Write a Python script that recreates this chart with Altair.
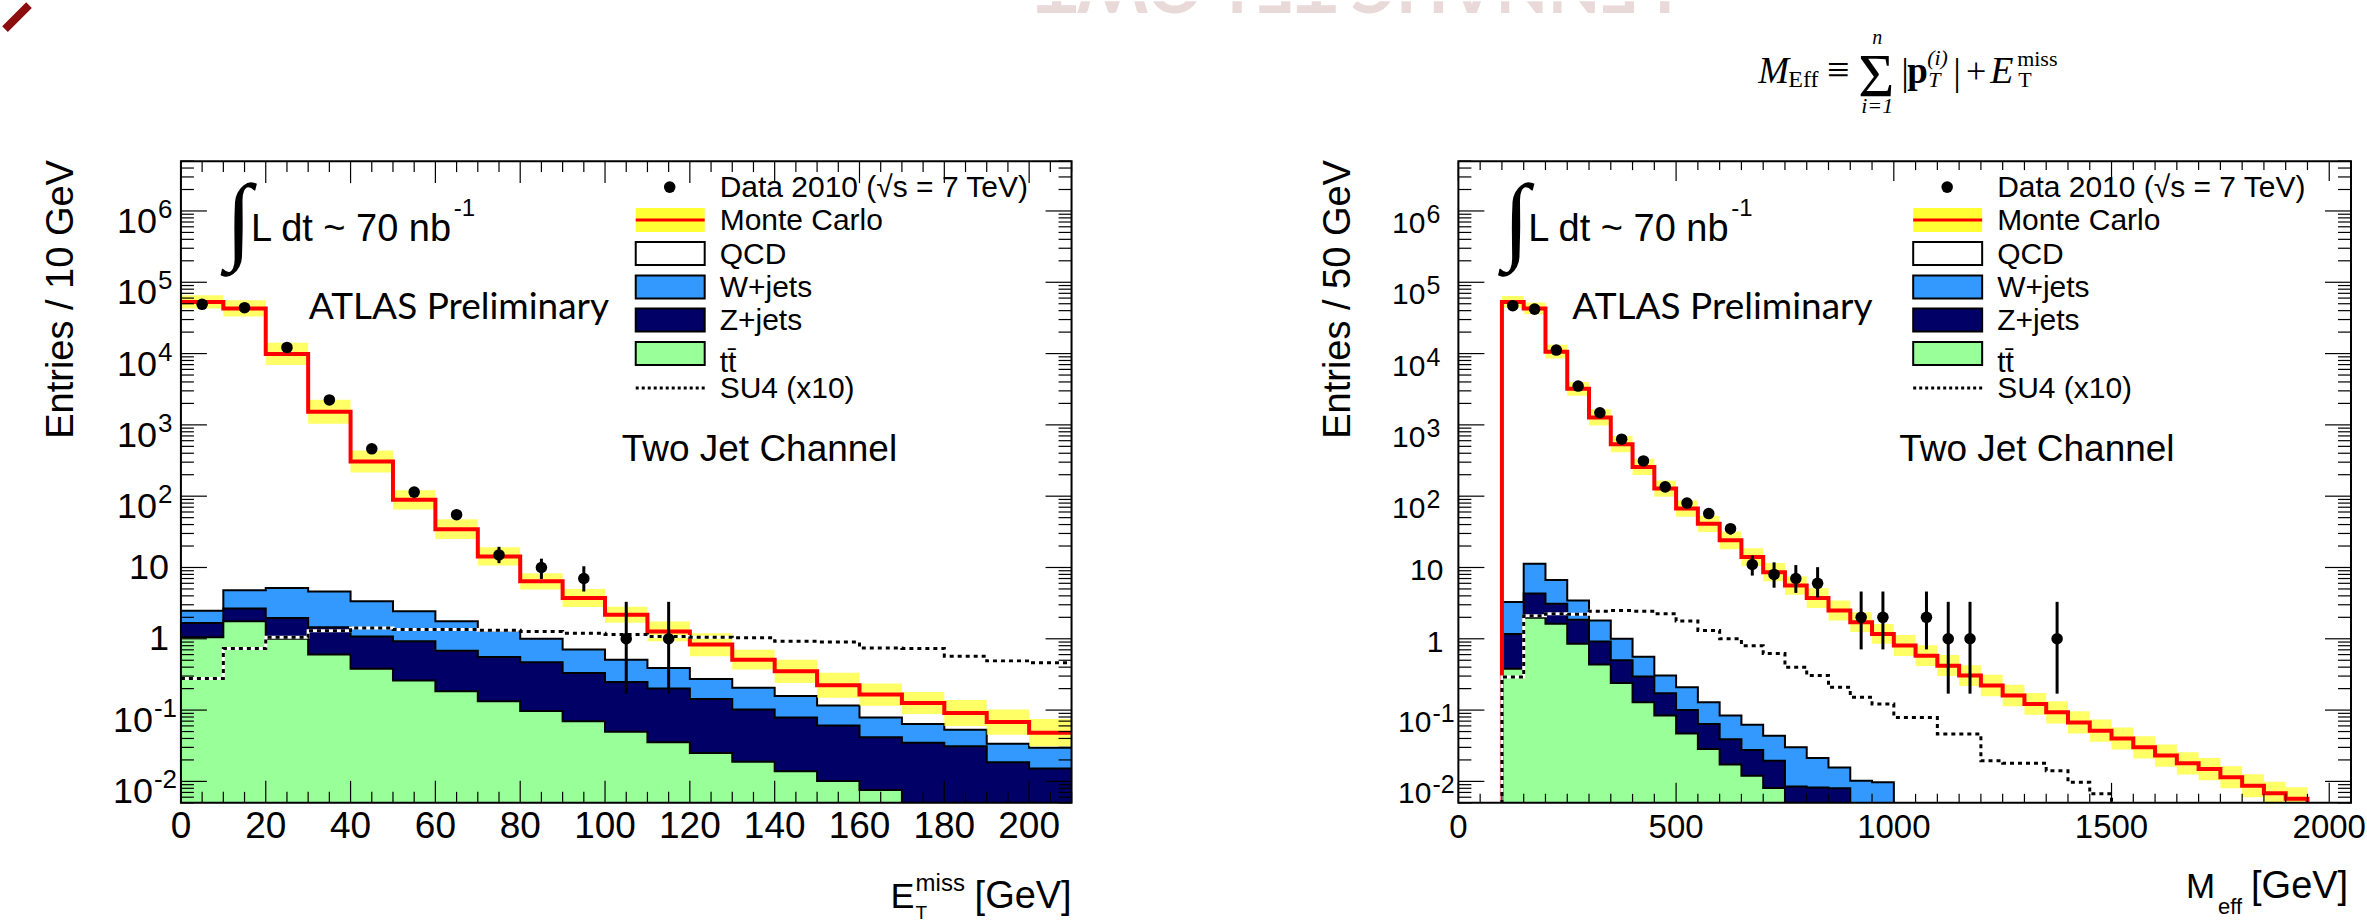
import altair as alt
import pandas as pd

# ------------------------------------------------------------------ data
# Left panel: E_T^miss, 10 GeV bins from 0 to 210
met_bin_lo = [0, 10, 20, 30, 40, 50, 60, 70, 80, 90, 100, 110, 120, 130, 140, 150, 160, 170, 180, 190, 200]
met_mc = [5.3e4, 4.3e4, 9.9e3, 1530, 306, 89, 34.5, 14.3, 6.4, 3.73, 2.18, 1.27, 0.83, 0.51, 0.35,
          0.223, 0.165, 0.126, 0.091, 0.068, 0.048]
met_mc_hi = [6.6e4, 5.6e4, 1.42e4, 2250, 438, 121, 47.6, 19.2, 8.3, 5.0, 2.82, 1.75, 1.2, 0.70, 0.51,
             0.335, 0.236, 0.18, 0.138, 0.102, 0.075]
met_mc_lo = [4.3e4, 3.3e4, 6.9e3, 1040, 214, 65, 25, 10.7, 4.9, 2.78, 1.68, 0.92, 0.57, 0.37, 0.24,
             0.149, 0.115, 0.088, 0.06, 0.045, 0.031]
met_wjets_cum = [2.48, 4.78, 5.15, 4.62, 3.35, 2.43, 1.76, 1.30, 1.0, 0.71, 0.51, 0.39, 0.273, 0.205,
                 0.157, 0.116, 0.079, 0.064, 0.053, 0.0336, 0.0296]
met_zjets_cum = [1.66, 2.65, 1.95, 1.45, 1.08, 0.92, 0.68, 0.556, 0.47, 0.33, 0.248, 0.2, 0.143, 0.102,
                 0.079, 0.061, 0.0417, 0.0347, 0.031, 0.0186, 0.0152]
met_ttbar = [1.05, 1.76, 1.0, 0.6, 0.38, 0.26, 0.184, 0.133, 0.097, 0.07, 0.0496, 0.0355, 0.025, 0.0188,
             0.0139, 0.0101, 0.0076]
met_su4 = [0.277, 0.73, 1.05, 1.3, 1.42, 1.35, 1.35, 1.32, 1.27, 1.2, 1.15, 1.08, 1.05, 1.03, 0.92, 0.9,
           0.74, 0.73, 0.57, 0.49, 0.46]
met_data_x = [5, 15, 25, 35, 45, 55, 65, 75, 85, 95, 105, 115]
met_data = [49000, 44000, 12200, 2240, 461, 114, 55, 15, 10, 7, 1, 1]
met_data_lo = [48780, 43790, 12090, 2193, 440, 103.5, 47.7, 11.5, 6.9, 4.6, 0.17, 0.17]
met_data_hi = [49220, 44210, 12310, 2287, 482, 125, 62.5, 19.5, 13.3, 10.4, 3.3, 3.3]

# Right panel: M_eff, 50 GeV bins
meff_bin_lo = [100 + 50 * k for k in range(37)]
meff_mc = [5.3e4, 4.3e4, 1.06e4, 3.2e3, 1.27e3, 536, 257, 128, 67, 41, 24, 14, 8.6, 5.6, 3.72, 2.5, 1.71,
           1.17, 0.805, 0.58, 0.42, 0.305, 0.221, 0.16, 0.122, 0.093, 0.067, 0.0515, 0.040, 0.030, 0.023,
           0.0179, 0.0149, 0.0114, 0.0087, 0.0068, 0.0057]
meff_mc_hi = [6.4e4, 5.2e4, 1.33e4, 4.0e3, 1.65e3, 697, 334, 166, 87, 53.3, 31.9, 18.6, 11.6, 7.56, 5.13,
              3.45, 2.36, 1.61, 1.13, 0.81, 0.59, 0.427, 0.314, 0.227, 0.173, 0.133, 0.096, 0.0736, 0.0572,
              0.0429, 0.0329, 0.0256, 0.0213, 0.0163, 0.0126, 0.0099, 0.0083]
meff_mc_lo = [4.4e4, 3.55e4, 8.5e3, 2.56e3, 977, 412, 198, 98.5, 51.5, 31.5, 18, 10.5, 6.4, 4.15, 2.7,
              1.81, 1.24, 0.85, 0.575, 0.414, 0.30, 0.218, 0.156, 0.113, 0.086, 0.065, 0.047, 0.036,
              0.028, 0.021, 0.0161, 0.0125, 0.0104, 0.008, 0.006, 0.0047, 0.0039]
meff_wjets_cum = [3.27, 11.3, 6.7, 3.45, 1.81, 1.0, 0.56, 0.305, 0.209, 0.129, 0.084, 0.0625, 0.0438,
                  0.030, 0.0213, 0.0157, 0.0102, 0.0097]
meff_zjets_cum = [1.17, 4.3, 3.1, 1.85, 0.916, 0.5, 0.295, 0.172, 0.1, 0.064, 0.039, 0.0276, 0.0195,
                  0.0085, 0.0082, 0.008, 0.0045, 0.0045]
meff_ttbar = [0.38, 1.97, 1.62, 0.85, 0.435, 0.24, 0.129, 0.084, 0.047, 0.0285, 0.0172, 0.012, 0.0081]
meff_su4 = [0.29, 2.1, 2.24, 2.2, 2.44, 2.5, 2.44, 2.24, 1.77, 1.31, 1.0, 0.8, 0.62, 0.4, 0.305, 0.209,
            0.151, 0.122, 0.079, 0.079, 0.0463, 0.0463, 0.0195, 0.018, 0.018, 0.0141, 0.0097, 0.0067]
meff_data_x = [125, 175, 225, 275, 325, 375, 425, 475, 525, 575, 625, 675, 725, 775, 825, 925, 975,
               1075, 1125, 1175, 1375]
meff_data = [47000, 42000, 11200, 3500, 1480, 630, 312, 135, 80, 57, 35, 11, 8, 7, 6, 2, 2, 2, 1, 1, 1]
meff_data_lo = [46780, 41790, 11090, 3440, 1440, 605, 294, 123, 71, 49.5, 29, 7.7, 5.2, 4.4, 3.8, 0.71,
                0.71, 0.71, 0.17, 0.17, 0.17]
meff_data_hi = [47220, 42210, 11310, 3560, 1520, 655, 330, 147, 89, 64.5, 41, 14.7, 11.8, 10.8, 10.1,
                4.6, 4.6, 4.6, 3.3, 3.3, 3.3]

# axis tick labels
y_tick_vals = [0.01, 0.1, 1, 10, 100, 1e3, 1e4, 1e5, 1e6]
y_tick_base = ["10", "10", "1", "10", "10", "10", "10", "10", "10"]
y_tick_sup = ["-2", "-1", "", "", "2", "3", "4", "5", "6"]
met_x_ticks = [0, 20, 40, 60, 80, 100, 120, 140, 160, 180, 200]
meff_x_ticks = [0, 500, 1000, 1500, 2000]

legend_labels = ["Data 2010 (\u221As = 7 TeV)", "Monte Carlo", "QCD", "W+jets", "Z+jets", "tt\u0304", "SU4 (x10)"]

# ------------------------------------------------------------------ style
SANS = "Liberation Sans"
SERIF = "Liberation Serif"
FLOOR = 1e-4
Y_DOMAIN = [0.005, 5e6]
H = 642
WL, WR = 891, 893
GAP = 387
HEADER_H = 160
X0 = 180
C_BLUE, C_NAVY, C_GREEN = "#3399ff", "#000066", "#99ff99"
C_YEL, C_RED = "#ffff33", "#ff0000"
ONE = pd.DataFrame({"k": [0]})


def steps(lo, width, vals, drop_start=False, drop_end=False):
    xs, ys = [], []
    if drop_start:
        xs.append(lo[0]); ys.append(FLOOR)
    for l, v in zip(lo, vals):
        xs.append(l); ys.append(v)
    end = lo[len(vals) - 1] + width
    xs.append(end); ys.append(vals[-1])
    if drop_end:
        xs.append(end); ys.append(FLOOR)
    return pd.DataFrame({"x": xs, "y": ys, "y0": [FLOOR] * len(xs), "i": list(range(len(xs)))})


def band(lo, width, vlo, vhi):
    xs = list(lo[:len(vlo)]) + [lo[len(vlo) - 1] + width]
    return pd.DataFrame({"x": xs, "lo": list(vlo) + [vlo[-1]], "hi": list(vhi) + [vhi[-1]]})


def T(text, x, y, size, font=SANS, align="left", baseline="alphabetic", angle=0, color="black",
      style="normal", weight="normal", opacity=1.0, clip=False):
    kw = dict(text=text, align=align, baseline=baseline, font=font, fontSize=size, color=color,
              fontStyle=style, fontWeight=weight, opacity=opacity)
    if angle:
        kw["angle"] = angle
    if clip:
        kw["clip"] = True
    return alt.Chart(ONE).mark_text(**kw).encode(x=alt.value(x), y=alt.value(y))


def RECT(x1, x2, y1, y2, fill, stroke=None, sw=0, opacity=1.0):
    kw = dict(fill=fill, opacity=opacity)
    if stroke:
        kw.update(stroke=stroke, strokeWidth=sw)
    return alt.Chart(ONE).mark_rect(**kw).encode(
        x=alt.value(x1), x2=alt.value(x2), y=alt.value(y1), y2=alt.value(y2))


def RULE(x1, x2, y1, y2, color="black", sw=1.0, dash=None):
    kw = dict(color=color, strokeWidth=sw)
    if dash:
        kw["strokeDash"] = dash
    return alt.Chart(ONE).mark_rule(**kw).encode(
        x=alt.value(x1), x2=alt.value(x2), y=alt.value(y1), y2=alt.value(y2))


def panel(cfg):
    W = cfg["W"]
    xs = alt.Scale(domain=cfg["xdom"], nice=False, zero=False)
    ys = alt.Scale(type="log", domain=Y_DOMAIN, nice=False)

    def X(f):
        return alt.X(f, type="quantitative", scale=xs, axis=None)

    def Y(f):
        return alt.Y(f, type="quantitative", scale=ys, axis=None)

    def area(df, color):
        return alt.Chart(df).mark_area(interpolate="step-after", color=color, clip=True, opacity=1).encode(
            x=X("x"), y=Y("y"), y2=alt.Y2("y0"))

    def line(df, color, width, dash=None):
        kw = dict(interpolate="step-after", color=color, strokeWidth=width, clip=True)
        if dash:
            kw["strokeDash"] = dash
        return alt.Chart(df).mark_line(**kw).encode(x=X("x"), y=Y("y"), order=alt.Order("i:Q"))

    lo, bw, ds = cfg["lo"], cfg["bw"], cfg["drop"]
    layers = []
    for vals, col in ((cfg["w"], C_BLUE), (cfg["z"], C_NAVY), (cfg["tt"], C_GREEN)):
        end_inside = (lo[len(vals) - 1] + bw) < cfg["xdom"][1]
        d = steps(lo, bw, vals, drop_start=ds, drop_end=end_inside)
        layers.append(area(d, col))
        layers.append(line(d, "black", 2))
    bd = band(lo, bw, cfg["mc_lo"], cfg["mc_hi"])
    layers.append(alt.Chart(bd).mark_area(interpolate="step-after", color=C_YEL, opacity=0.75, clip=True)
                  .encode(x=X("x"), y=Y("lo"), y2=alt.Y2("hi")))
    mc_end_inside = (lo[len(cfg["mc"]) - 1] + bw) < cfg["xdom"][1]
    layers.append(line(steps(lo, bw, cfg["mc"], drop_start=ds, drop_end=mc_end_inside), C_RED, 4))
    su_end_inside = (lo[len(cfg["su4"]) - 1] + bw) < cfg["xdom"][1]
    sd = steps(lo, bw, cfg["su4"], drop_start=ds, drop_end=su_end_inside)
    layers.append(line(sd, "white", 3))
    layers.append(line(sd, "black", 3, dash=[4, 4]))
    dd = pd.DataFrame({"x": cfg["dx"], "y": cfg["dy"], "lo": cfg["dlo"], "hi": cfg["dhi"]})
    layers.append(alt.Chart(dd).mark_rule(color="black", strokeWidth=3).encode(
        x=X("x"), y=Y("lo"), y2=alt.Y2("hi")))
    layers.append(alt.Chart(dd).mark_circle(color="black", size=133, opacity=1).encode(x=X("x"), y=Y("y")))

    # legend
    rows = [26, 59, 92.5, 126, 159, 192.5, 227]
    bx1, bx2, tx = 455, 524, 539
    layers.append(alt.Chart(ONE).mark_circle(color="black", size=133, opacity=1).encode(
        x=alt.value(489), y=alt.value(rows[0])))
    layers.append(RECT(bx1, bx2, rows[1] - 12, rows[1] + 12, C_YEL))
    layers.append(RULE(bx1, bx2, rows[1], rows[1], C_RED, 3))
    for r, col in zip(rows[2:6], ["white", C_BLUE, C_NAVY, C_GREEN]):
        layers.append(RECT(bx1, bx2, r - 11.5, r + 11.5, col, "black", 2))
    layers.append(RULE(bx1, bx2, rows[6], rows[6], "black", 3, dash=[3, 3]))
    for k, (r, lab) in enumerate(zip(rows, legend_labels)):
        dy = 18 if k == 5 else 10
        layers.append(T(lab, tx, r + dy, 30))

    # annotations
    layers.append(T("\u222B", 58, 90, 96, font=SERIF, align="center"))
    layers.append(T("L dt ~ 70 nb", 70, 80, 38))
    layers.append(T("-1", 273, 55, 24))
    layers.append(T("ATLAS Preliminary", cfg["atlas_x"], 158, 37, font="Lato"))
    layers.append(T("Two Jet Channel", 441, 300, 37))

    # frame + ticks
    layers.append(RECT(0, W, 0, H, "transparent", "black", 2))
    ymaj = pd.DataFrame({"t": y_tick_vals})
    ymin = pd.DataFrame({"t": [k * 10 ** d for d in range(-3, 7) for k in range(2, 10)
                               if Y_DOMAIN[0] <= k * 10 ** d <= Y_DOMAIN[1]]})
    for df, ln in ((ymaj, 26), (ymin, 13)):
        layers.append(alt.Chart(df).mark_rule(color="black", strokeWidth=1.2).encode(
            y=Y("t"), x=alt.value(0), x2=alt.value(ln)))
        layers.append(alt.Chart(df).mark_rule(color="black", strokeWidth=1.2).encode(
            y=Y("t"), x=alt.value(W - ln), x2=alt.value(W)))
    xmaj = pd.DataFrame({"t": cfg["xmaj"]})
    xmin = pd.DataFrame({"t": cfg["xmin"]})
    for df, ln in ((xmaj, cfg["xmaj_len"]), (xmin, cfg["xmin_len"])):
        layers.append(alt.Chart(df).mark_rule(color="black", strokeWidth=1.2).encode(
            x=X("t"), y=alt.value(H - ln), y2=alt.value(H)))
        layers.append(alt.Chart(df).mark_rule(color="black", strokeWidth=1.2).encode(
            x=X("t"), y=alt.value(0), y2=alt.value(ln)))

    # tick labels
    lab = pd.DataFrame({"t": y_tick_vals, "base": y_tick_base, "sup": y_tick_sup})
    lab["n"] = lab["sup"].str.len()
    yl = cfg["ylab"]
    for n, (bxp, sxp) in ((1, yl["one"]), (2, yl["two"])):
        sub = lab[lab["n"] == n]
        layers.append(alt.Chart(sub).mark_text(align="right", baseline="alphabetic", font=SANS,
                                               fontSize=yl["bsize"], dy=22, color="black").encode(
            y=Y("t"), x=alt.value(bxp), text="base:N"))
        layers.append(alt.Chart(sub).mark_text(align="left", baseline="alphabetic", font=SANS,
                                               fontSize=yl["ssize"], dy=yl["sdy"], color="black").encode(
            y=Y("t"), x=alt.value(sxp), text="sup:N"))
    sub = lab[lab["n"] == 0]
    layers.append(alt.Chart(sub).mark_text(align="right", baseline="alphabetic", font=SANS,
                                           fontSize=yl["bsize"], dy=yl["pdy"], color="black").encode(
        y=Y("t"), x=alt.value(yl["plain"]), text="base:N"))
    xl = pd.DataFrame({"t": cfg["xticks"], "s": [str(v) for v in cfg["xticks"]]})
    layers.append(alt.Chart(xl).mark_text(align="center", baseline="alphabetic", font=SANS,
                                          fontSize=cfg["xlab_size"], color="black").encode(
        x=X("t"), y=alt.value(H + 35), text="s:N"))

    # axis titles
    layers.append(T(cfg["ytitle"], -108, -1, 38, align="right", angle=270))
    layers += cfg["xtitle"]
    return alt.layer(*layers).properties(width=W, height=H)


left_cfg = dict(
    W=WL, xdom=[0, 210], lo=met_bin_lo, bw=10, drop=False,
    w=met_wjets_cum, z=met_zjets_cum, tt=met_ttbar, mc=met_mc, mc_lo=met_mc_lo, mc_hi=met_mc_hi,
    su4=met_su4, dx=met_data_x, dy=met_data, dlo=met_data_lo, dhi=met_data_hi,
    atlas_x=128,
    xmaj=met_x_ticks, xmin=[v for v in range(0, 211, 5) if v % 20], xmaj_len=22, xmin_len=11,
    ylab=dict(one=(-24, -23), two=(-28, -27), bsize=36, ssize=26, sdy=7, plain=-12, pdy=11.5),
    xticks=met_x_ticks, xlab_size=37,
    ytitle="Entries / 10 GeV",
    xtitle=[T("E", 710, 747, 36), T("miss", 735, 730, 24), T("T", 735, 758, 19), T("[GeV]", 794, 747, 38)],
)
right_cfg = dict(
    W=WR, xdom=[0, 2050], lo=meff_bin_lo, bw=50, drop=True,
    w=meff_wjets_cum, z=meff_zjets_cum, tt=meff_ttbar, mc=meff_mc, mc_lo=meff_mc_lo, mc_hi=meff_mc_hi,
    su4=meff_su4, dx=meff_data_x, dy=meff_data, dlo=meff_data_lo, dhi=meff_data_hi,
    atlas_x=114,
    xmaj=meff_x_ticks, xmin=[v for v in range(0, 2051, 50) if v % 500], xmaj_len=20, xmin_len=9,
    ylab=dict(one=(-33, -32), two=(-27, -26), bsize=30, ssize=25, sdy=12, plain=-15, pdy=13),
    xticks=meff_x_ticks, xlab_size=33,
    ytitle="Entries / 50 GeV",
    xtitle=[T("M", 728, 737, 35), T("eff", 760, 753, 22), T("[GeV]", 793, 737, 38)],
)

left = panel(left_cfg)
right = panel(right_cfg)

# ------------------------------------------------------------------ header (slide decorations)
hx = lambda cx: cx - X0
header_layers = [
    RULE(hx(4), hx(28), 28, 4, "#8b0d0d", 8),
    T("LENNAHC TEJ-OWT", hx(1355), -38, 68, font="Lato", align="center", angle=180,
      color="#e2cccc", weight="bold", opacity=0.75, clip=True),
    T("M", hx(1758), 82, 37, font=SERIF, style="italic"),
    T("Eff", hx(1788), 86, 24, font=SERIF),
    T("\u2261", hx(1838), 82, 40, font=SERIF, align="center"),
    T("\u03A3", hx(1876), 95, 62, font=SERIF, align="center"),
    T("n", hx(1877), 43, 20, font=SERIF, style="italic", align="center"),
    T("i=1", hx(1877), 112, 22, font=SERIF, style="italic", align="center"),
    T("|", hx(1901), 84, 38, font=SERIF),
    T("p", hx(1907), 82, 37, font=SERIF, weight="bold"),
    T("(i)", hx(1927), 64, 22, font=SERIF, style="italic"),
    T("T", hx(1928), 86, 22, font=SERIF, style="italic"),
    T("|", hx(1953), 84, 38, font=SERIF),
    T("+", hx(1976), 82, 36, font=SERIF, align="center"),
    T("E", hx(1990), 82, 38, font=SERIF, style="italic"),
    T("miss", hx(2017), 65, 22, font=SERIF),
    T("T", hx(2018), 86, 22, font=SERIF),
]
header = alt.layer(*header_layers).properties(width=WL + GAP + WR, height=HEADER_H)

body = alt.hconcat(left, right, spacing=GAP, bounds="flush")
chart = alt.vconcat(header, body, spacing=0, bounds="flush").properties(
    padding=0, background="white"
).configure_view(stroke="transparent")

chart.save("out.html", embed_options={"renderer": "svg", "actions": False})
